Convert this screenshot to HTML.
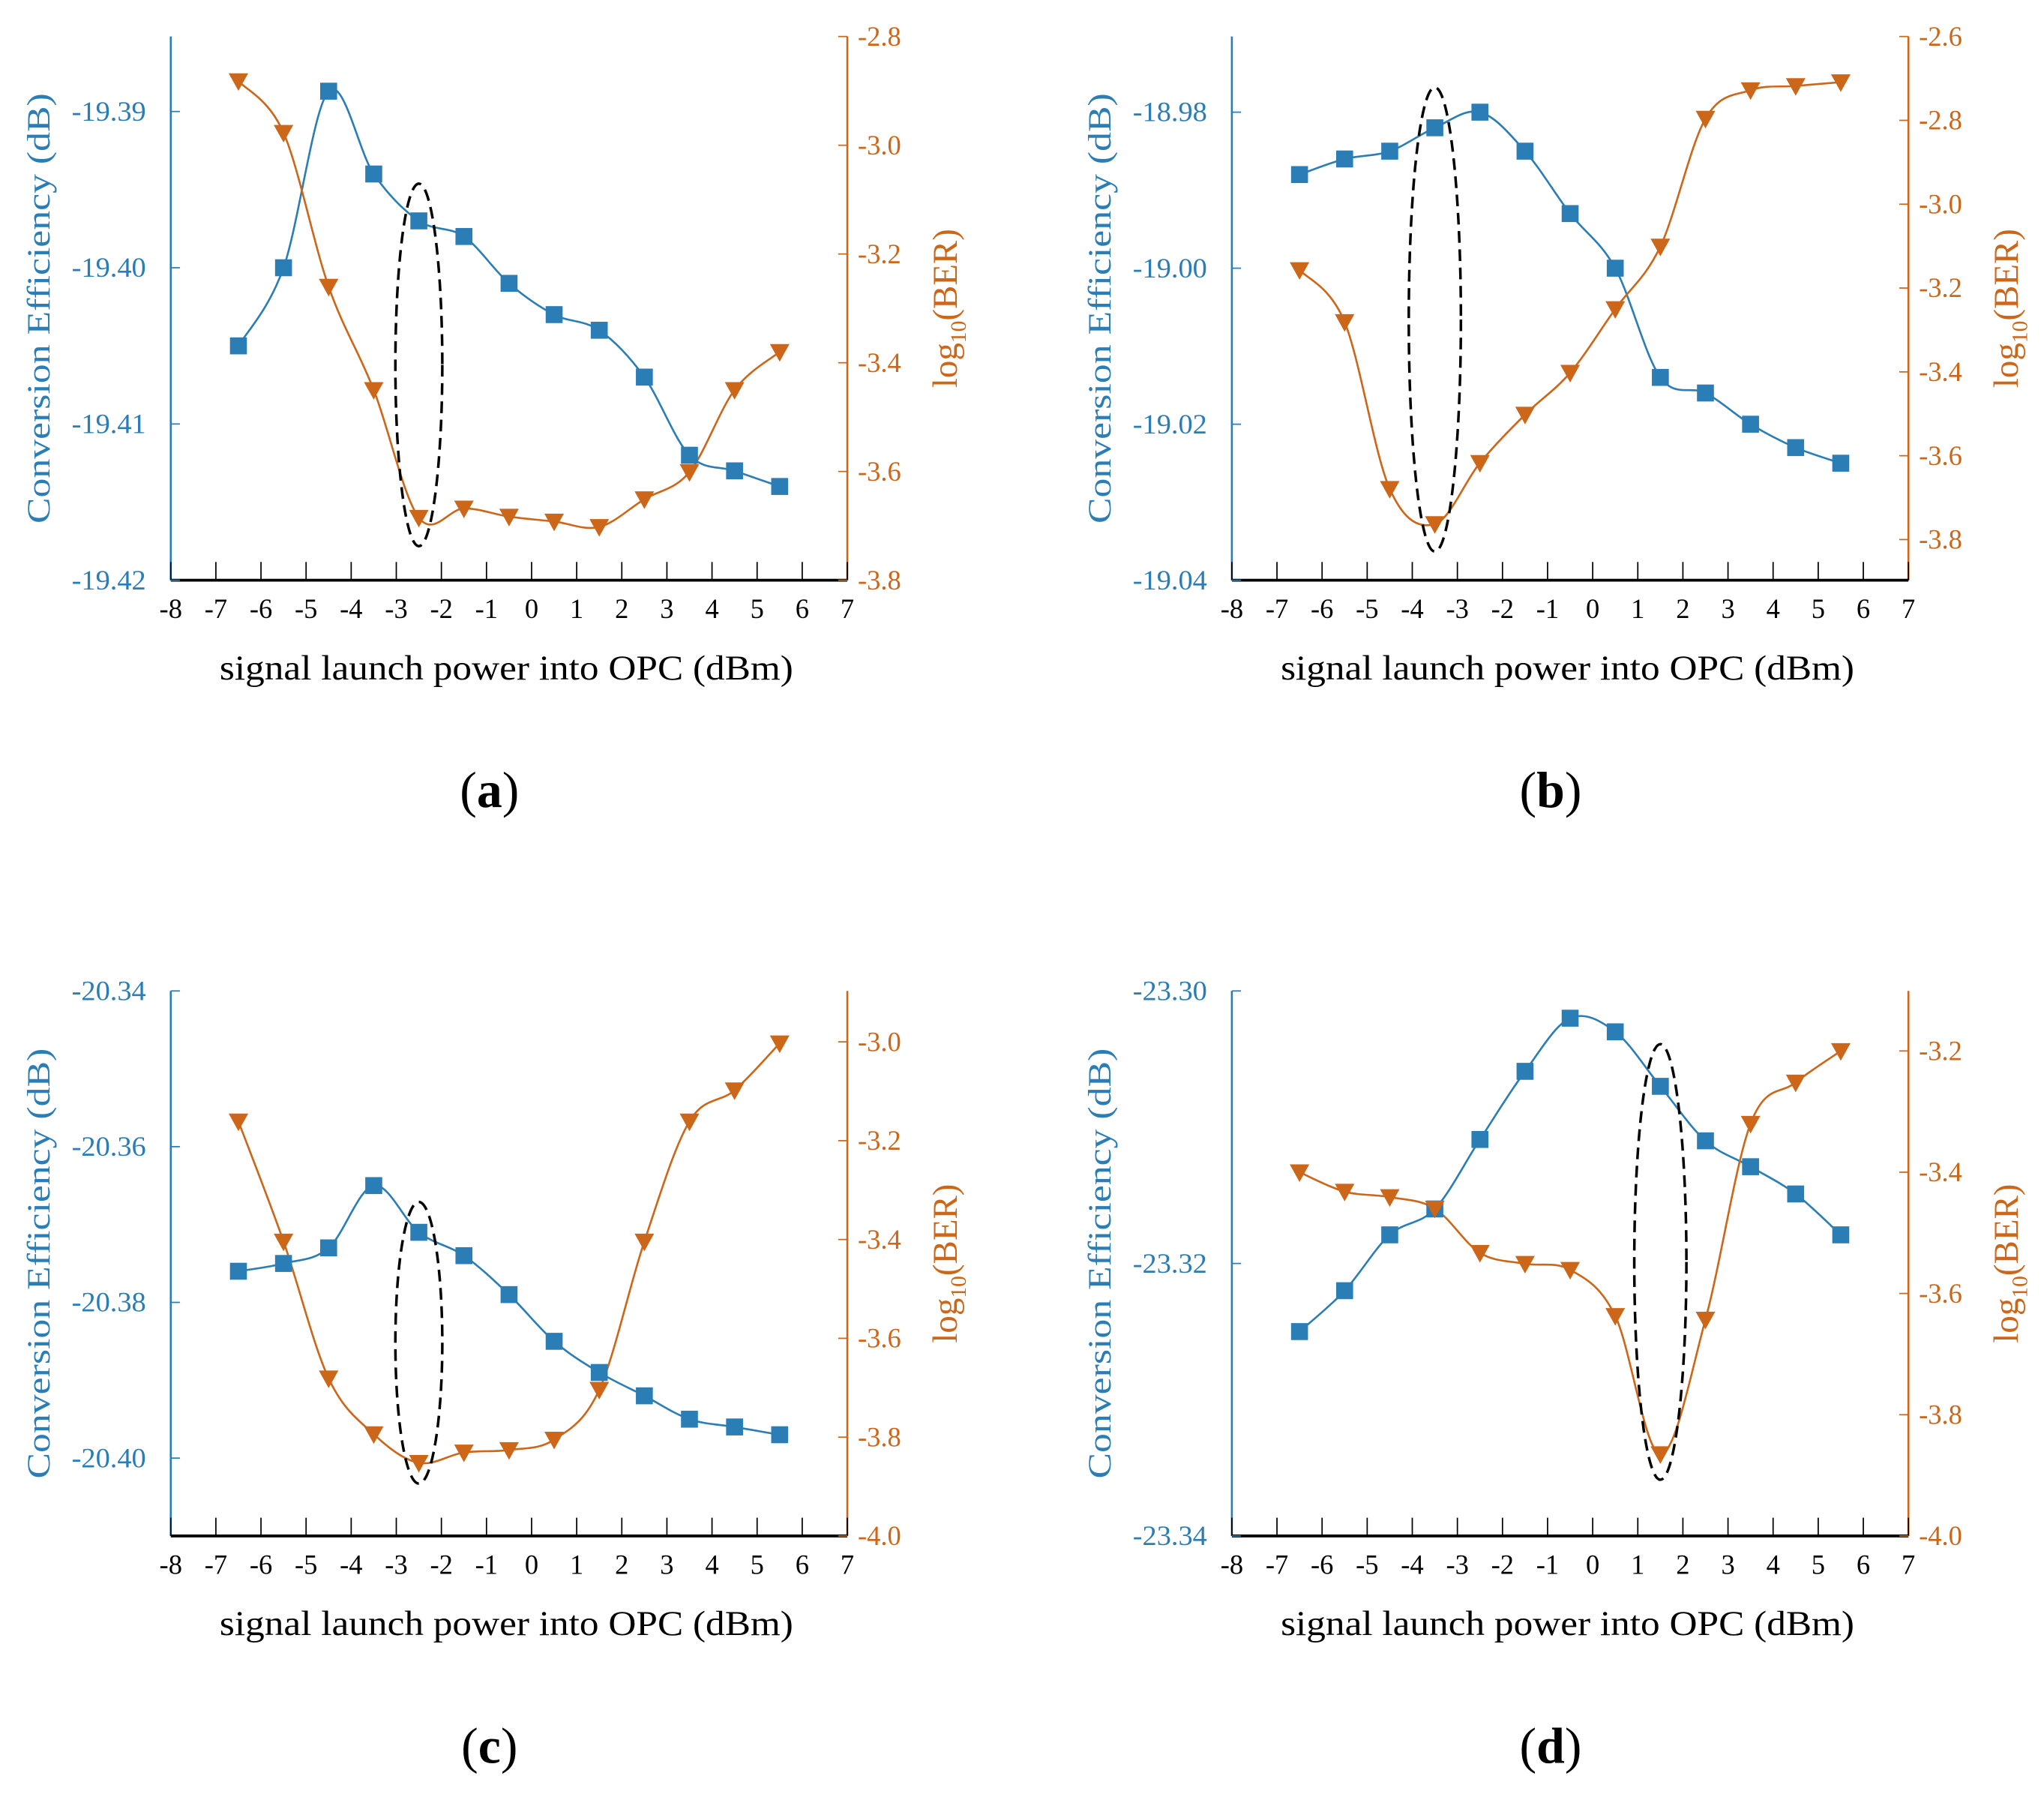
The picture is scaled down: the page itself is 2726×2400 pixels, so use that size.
<!DOCTYPE html>
<html><head><meta charset="utf-8"><style>
html,body{margin:0;padding:0;background:#fff;}
svg{display:block;}
text{font-family:"Liberation Serif",serif;}
</style></head><body>
<svg id="fig" width="2726" height="2400" viewBox="0 0 1568 1380.5" xmlns="http://www.w3.org/2000/svg"></svg>
<script>
const xValues = [-6.5,-5.5,-4.5,-3.5,-2.5,-1.5,-0.5,0.5,1.5,2.5,3.5,4.5,5.5];
const xTicks = [-8,-7,-6,-5,-4,-3,-2,-1,0,1,2,3,4,5,6,7];
const ceA = [-19.405,-19.400,-19.3887,-19.394,-19.397,-19.398,-19.401,-19.403,-19.404,-19.407,-19.412,-19.413,-19.414];
const berA = [-2.882,-2.977,-3.260,-3.450,-3.685,-3.668,-3.683,-3.692,-3.702,-3.651,-3.601,-3.450,-3.380];
const ceB = [-18.988,-18.986,-18.985,-18.982,-18.980,-18.985,-18.993,-19.000,-19.014,-19.016,-19.020,-19.023,-19.025];
const berB = [-3.157,-3.281,-3.679,-3.763,-3.617,-3.502,-3.402,-3.250,-3.101,-2.796,-2.728,-2.718,-2.709];
const ceC = [-20.376,-20.375,-20.373,-20.365,-20.371,-20.374,-20.379,-20.385,-20.389,-20.392,-20.395,-20.396,-20.397];
const berC = [-3.161,-3.404,-3.681,-3.794,-3.852,-3.831,-3.826,-3.805,-3.704,-3.404,-3.161,-3.098,-3.003];
const ceD = [-23.325,-23.322,-23.3179,-23.316,-23.3109,-23.3059,-23.302,-23.303,-23.307,-23.311,-23.3129,-23.3149,-23.3179];
const berD = [-3.400,-3.432,-3.441,-3.460,-3.533,-3.551,-3.561,-3.637,-3.865,-3.643,-3.320,-3.252,-3.200];
const leftTicksA = [-19.39,-19.40,-19.41,-19.42];
const rightTicksA = [-2.8,-3.0,-3.2,-3.4,-3.6,-3.8];
const leftTicksB = [-18.98,-19.00,-19.02,-19.04];
const rightTicksB = [-2.6,-2.8,-3.0,-3.2,-3.4,-3.6,-3.8];
const leftTicksC = [-20.34,-20.36,-20.38,-20.40];
const rightTicksC = [-3.0,-3.2,-3.4,-3.6,-3.8,-4.0];
const leftTicksD = [-23.30,-23.32,-23.34];
const rightTicksD = [-3.2,-3.4,-3.6,-3.8,-4.0];

const NS="http://www.w3.org/2000/svg";
const svg=document.getElementById('fig');
const BLUE="#2a7db5", ORANGE="#cc6619";
function mk(tag,attrs,parent){const e=document.createElementNS(NS,tag);for(const k in attrs)e.setAttribute(k,attrs[k]);(parent||svg).appendChild(e);return e;}

const panels=[
 {id:'a',x0:131,top:28,bot:445,lmin:-19.42,lmax:-19.3852,rmin:-3.8,rmax:-2.8,ce:ceA,ber:berA,lt:leftTicksA,rt:rightTicksA,ell:[-2.5,-3.404,18,139]},
 {id:'b',x0:945,top:28,bot:445,lmin:-19.04,lmax:-18.9703,rmin:-3.897,rmax:-2.6,ce:ceB,ber:berB,lt:leftTicksB,rt:rightTicksB,ell:[-3.5,-3.275,20,178]},
 {id:'c',x0:131,top:760,bot:1178,lmin:-20.41,lmax:-20.34,rmin:-4.0,rmax:-2.897,ce:ceC,ber:berC,lt:leftTicksC,rt:rightTicksC,ell:[-2.5,-3.609,18,108]},
 {id:'d',x0:945,top:760,bot:1178,lmin:-23.34,lmax:-23.30,rmin:-4.0,rmax:-3.101,ce:ceD,ber:berD,lt:leftTicksD,rt:rightTicksD,ell:[1.5,-3.548,20,167]},
];

function spline(pts){
  let d=`M${pts[0][0]},${pts[0][1]}`;
  for(let i=0;i<pts.length-1;i++){
    const p0=pts[i-1]||pts[i],p1=pts[i],p2=pts[i+1],p3=pts[i+2]||p2;
    const c1=[p1[0]+(p2[0]-p0[0])/6,p1[1]+(p2[1]-p0[1])/6];
    const c2=[p2[0]-(p3[0]-p1[0])/6,p2[1]-(p3[1]-p1[1])/6];
    d+=` C${c1[0]},${c1[1]} ${c2[0]},${c2[1]} ${p2[0]},${p2[1]}`;
  }
  return d;
}

panels.forEach(p=>{
  const W=519, x1=p.x0+W;
  const g=mk('g',{});
  
  
  const X=v=>p.x0+(v+8)/15*W;
  const YL=v=>p.bot-(v-p.lmin)/(p.lmax-p.lmin)*(p.bot-p.top);
  const YR=v=>p.bot-(v-p.rmin)/(p.rmax-p.rmin)*(p.bot-p.top);
  const la=mk('line',{x1:p.x0,y1:p.top,x2:p.x0,y2:p.bot,stroke:BLUE,'stroke-width':1.5},g);
  
  const ra=mk('line',{x1:x1,y1:p.top,x2:x1,y2:p.bot,stroke:ORANGE,'stroke-width':1.5},g);
  
  const ba=mk('line',{x1:p.x0,y1:p.bot,x2:x1,y2:p.bot,stroke:'#000','stroke-width':2.2},g);
  
  xTicks.forEach(t=>{
    mk('line',{x1:X(t),y1:p.bot,x2:X(t),y2:p.bot-14,stroke:'#000','stroke-width':1},g);
    const tx=mk('text',{x:X(t),y:p.bot+29,'font-size':21,'text-anchor':'middle',fill:'#000'},g);
    tx.textContent=t<0?'-'+Math.abs(t):String(t);
    
  });
  p.lt.forEach(t=>{
    mk('line',{x1:p.x0,y1:YL(t),x2:p.x0+7,y2:YL(t),stroke:BLUE,'stroke-width':1},g);
    const tx=mk('text',{x:p.x0-19,y:YL(t)+7,'font-size':21,'text-anchor':'end',fill:BLUE,textLength:57,lengthAdjust:'spacingAndGlyphs'},g);
    tx.textContent=t.toFixed(2);
    
  });
  p.rt.forEach(t=>{
    mk('line',{x1:x1,y1:YR(t),x2:x1-7,y2:YR(t),stroke:ORANGE,'stroke-width':1},g);
    const tx=mk('text',{x:x1+8,y:YR(t)+7,'font-size':21,'text-anchor':'start',fill:ORANGE},g);
    tx.textContent=t.toFixed(1);
    
  });
  const cy=(p.top+p.bot)/2;
  const lt=mk('text',{x:0,y:0,'font-size':25,'text-anchor':'middle',fill:BLUE,textLength:330,lengthAdjust:'spacingAndGlyphs',transform:`translate(${p.x0-93},${cy}) rotate(-90)`},g);
  lt.textContent='Conversion Efficiency (dB)';
  
  const rt=mk('text',{x:0,y:0,'font-size':27,'text-anchor':'middle',fill:ORANGE,transform:`translate(${x1+84},${cy}) rotate(-90)`},g);
  rt.innerHTML='log<tspan font-size="17" dy="7">10</tspan><tspan dy="-7">(BER)</tspan>';
  
  const xt=mk('text',{x:p.x0+W/2-2,y:p.bot+76,'font-size':27,'text-anchor':'middle',fill:'#000',textLength:440,lengthAdjust:'spacingAndGlyphs'},g);
  xt.textContent='signal launch power into OPC (dBm)';
  
  const pl=mk('text',{x:p.x0+W/2-15,y:p.bot+174,'font-size':39,'text-anchor':'middle',fill:'#000'},g);
  pl.innerHTML='(<tspan font-weight="bold">'+p.id+'</tspan>)';
  
  const bp=xValues.map((x,i)=>[X(x),YL(p.ce[i])]);
  const op=xValues.map((x,i)=>[X(x),YR(p.ber[i])]);
  const bl=mk('path',{d:spline(bp),fill:'none',stroke:BLUE,'stroke-width':1.5},g);
  
  const ol=mk('path',{d:spline(op),fill:'none',stroke:ORANGE,'stroke-width':1.5},g);
  
  bp.forEach(q=>{
    const r=mk('rect',{x:q[0]-6.5,y:q[1]-6.5,width:13,height:13,fill:BLUE},g);
    
  });
  op.forEach(q=>{
    const t=mk('path',{d:`M${q[0]-7.5},${q[1]-6} L${q[0]+7.5},${q[1]-6} L${q[0]},${q[1]+7.5}Z`,fill:ORANGE},g);
    
  });
  const e=p.ell;
  const el=mk('ellipse',{cx:X(e[0]),cy:YR(e[1]),rx:e[2],ry:e[3],fill:'none',stroke:'#000','stroke-width':2,'stroke-dasharray':'9,5'},g);
  
});
</script>
</body></html>
